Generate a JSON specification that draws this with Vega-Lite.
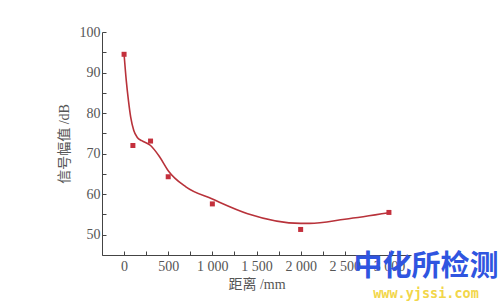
{
  "$schema": "https://vega.github.io/schema/vega-lite/v6.json",
  "autosize": "none",
  "width": 309,
  "height": 223,
  "padding": {"left": 102, "top": 32, "right": 92, "bottom": 49},
  "background": "#ffffff",
  "config": {
    "view": {"stroke": null},
    "axis": {
      "labelFont": "Liberation Serif, DejaVu Serif, Noto Sans CJK SC",
      "titleFont": "Liberation Serif, Noto Sans CJK SC",
      "labelFontSize": 14,
      "titleFontSize": 14,
      "labelColor": "#555555",
      "titleColor": "#555555",
      "titleFontWeight": "normal",
      "domainColor": "#444444",
      "tickColor": "#444444",
      "grid": false,
      "tickSize": -4
    }
  },
  "datasets": {
    "points": [
      {"distance": 0, "amp": 94.5},
      {"distance": 100, "amp": 72.0},
      {"distance": 300, "amp": 73.1},
      {"distance": 500, "amp": 64.3},
      {"distance": 1000, "amp": 57.6},
      {"distance": 2000, "amp": 51.3},
      {"distance": 3000, "amp": 55.5}
    ],
    "fit": [
      {"distance": 0, "amp": 94.5},
      {"distance": 25, "amp": 88.0},
      {"distance": 50, "amp": 83.0},
      {"distance": 75, "amp": 79.0},
      {"distance": 110, "amp": 75.7},
      {"distance": 150, "amp": 74.0},
      {"distance": 200, "amp": 73.2},
      {"distance": 300, "amp": 72.0},
      {"distance": 400, "amp": 69.3},
      {"distance": 500, "amp": 65.8},
      {"distance": 700, "amp": 61.8},
      {"distance": 1000, "amp": 58.8},
      {"distance": 1400, "amp": 55.2},
      {"distance": 2000, "amp": 52.8},
      {"distance": 2100, "amp": 52.8},
      {"distance": 2500, "amp": 53.8},
      {"distance": 3000, "amp": 55.4}
    ],
    "marks": [{}]
  },
  "resolve": {"axis": {"x": "independent", "y": "independent"}},
  "layer": [
    {
      "data": {"name": "fit"},
      "mark": {"type": "line", "interpolate": "monotone", "color": "#b8323a", "strokeWidth": 1.6},
      "encoding": {
        "x": {
          "field": "distance", "type": "quantitative",
          "scale": {"domain": [-250, 3250], "nice": false, "zero": false},
          "axis": {
            "title": "距离 /mm",
            "values": [0, 250, 500, 750, 1000, 1250, 1500, 1750, 2000, 2250, 2500, 2750, 3000],
            "labelExpr": "datum.value % 500 === 0 ? replace(format(datum.value, ','), ',', ' ') : ''",
            "labelOverlap": false,
            "labelPadding": 8,
            "titlePadding": 4
          }
        },
        "y": {
          "field": "amp", "type": "quantitative",
          "scale": {"domain": [45, 100], "nice": false, "zero": false},
          "axis": {
            "title": "信号幅值 /dB",
            "values": [45, 50, 55, 60, 65, 70, 75, 80, 85, 90, 95, 100],
            "labelExpr": "datum.value % 10 === 0 ? format(datum.value, 'd') : ''",
            "labelOverlap": false,
            "labelPadding": 6,
            "titlePadding": 8
          }
        }
      }
    },
    {
      "data": {"name": "points"},
      "mark": {"type": "square", "color": "#c4303c", "opacity": 1, "size": 25},
      "encoding": {
        "x": {"field": "distance", "type": "quantitative", "axis": null},
        "y": {"field": "amp", "type": "quantitative", "axis": null}
      }
    },
    {
      "data": {"name": "marks"},
      "mark": {"type": "text", "text": "中化所检测", "font": "Noto Sans CJK SC", "fontWeight": "bold", "fontSize": 29, "color": "#2f55e0", "align": "center", "baseline": "middle", "clip": false},
      "encoding": {"x": {"datum": 3420, "type": "quantitative", "axis": null}, "y": {"datum": 42.1, "type": "quantitative", "axis": null}}
    },
    {
      "data": {"name": "marks"},
      "mark": {"type": "text", "text": "www.yjssi.com", "font": "DejaVu Sans Mono", "fontWeight": "bold", "fontSize": 13.5, "color": "#f2d64a", "align": "center", "baseline": "middle", "clip": false},
      "encoding": {"x": {"datum": 3420, "type": "quantitative", "axis": null}, "y": {"datum": 35.4, "type": "quantitative", "axis": null}}
    }
  ]
}
